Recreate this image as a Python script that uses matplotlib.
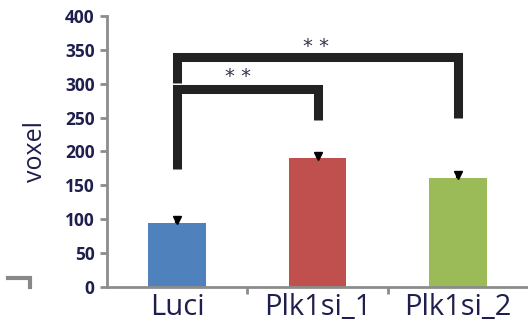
import matplotlib
matplotlib.use("Agg")
import matplotlib.pyplot as plt
from matplotlib.lines import Line2D

# Data
groups = ["Luci", "Plk1si_1", "Plk1si_2"]
voxel = [94, 190, 161]
voxel_err = [5, 4, 4]
bar_colors = ["#4F81BD", "#C0504D", "#9BBB59"]
y_ticks = [0, 50, 100, 150, 200, 250, 300, 350, 400]

# significance brackets: (left x, right x, left bottom, top, right bottom, star x, star y)
brackets = [
    (0, 1, 174, 292, 246, 0.43, 311),
    (0, 2, 301, 339, 249, 0.99, 355),
]

text_col = "#1F1F4F"
spine_col = "#8C8C8C"

fig = plt.figure(figsize=(5.28, 3.31), dpi=100)
ax = fig.add_axes([0.2027, 0.133, 0.7973, 0.8187])

x = list(range(len(groups)))
ax.bar(x, voxel, width=0.41, color=bar_colors, zorder=2)
# upper-only error bars, drawn as a small triangular cap
tops = [v + e for v, e in zip(voxel, voxel_err)]
ax.vlines(x, voxel, tops, color="black", lw=3, zorder=3)
ax.plot(x, tops, linestyle="none", marker="v", markersize=5.5,
        color="black", zorder=3)

for xl, xr, yl, yt, yr, sx, sy in brackets:
    ax.plot([xl, xl, xr, xr], [yl, yt, yt, yr], color="#222222", lw=6.5,
            solid_joinstyle="miter", solid_capstyle="butt", zorder=4)
    ax.text(sx, sy, "* *", ha="center", va="center", fontsize=14,
            color="#3A3050", family="DejaVu Sans")

ax.set_xlim(-0.5, 2.5)
ax.set_ylim(0, 400)
ax.set_yticks(y_ticks)
ax.set_yticklabels([str(v) for v in y_ticks], fontsize=12.5, fontweight="bold",
                   color=text_col, family="Open Sans")
ax.set_xticks(x)
ax.set_xticklabels(groups, fontsize=21, color=text_col, family="Open Sans")
ax.set_xticks([0.5, 1.5], minor=True)
ax.tick_params(axis="x", which="major", length=0, pad=4)
ax.tick_params(axis="x", which="minor", length=5, width=2, color=spine_col)
ax.tick_params(axis="y", length=5, width=2, color=spine_col, pad=4)
ax.set_ylabel("voxel", fontsize=18, color=text_col, family="Open Sans", labelpad=12)

for side in ["top", "right"]:
    ax.spines[side].set_visible(False)
for side in ["left", "bottom"]:
    ax.spines[side].set_color(spine_col)
    ax.spines[side].set_linewidth(2)

# stray little bracket mark on the left
fig.add_artist(Line2D([8 / 528, 30 / 528, 30 / 528],
                      [1 - 278 / 331, 1 - 278 / 331, 1 - 287 / 331],
                      color="#888888", lw=3, solid_joinstyle="miter"))

fig.savefig("out.png", dpi=100)
